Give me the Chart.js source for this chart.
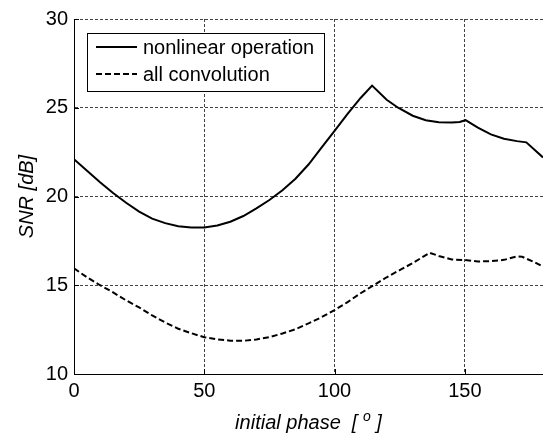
<!DOCTYPE html>
<html>
<head>
  <title>SNR vs initial phase</title>
  <style>
    body { margin: 0; background: #fff; }
    #wrap { width: 543px; height: 436px; }
  </style>
</head>
<body>
  <div id="wrap"><canvas id="chart" width="543" height="436"></canvas></div>

  <script src="https://cdn.jsdelivr.net/npm/chart.js"></script>
  <script>
    // nonlinear operation curve
    const phaseNonlinear = [0, 5, 10, 15, 20, 25, 30, 35, 40, 45, 50, 55, 60, 65, 70, 75, 80, 85, 90, 95,
      100, 105, 110, 114.4, 120, 124.4, 130, 135, 140, 145, 148, 150.3, 155, 160, 165, 170, 173.6, 180];
    const snrNonlinear = [22.1, 21.45, 20.8, 20.2, 19.65, 19.15, 18.75, 18.5, 18.33, 18.25, 18.26, 18.37, 18.58, 18.9, 19.33, 19.8, 20.35, 21.0, 21.8, 22.75,
      23.7, 24.65, 25.55, 26.25, 25.45, 25.0, 24.55, 24.3, 24.18, 24.17, 24.2, 24.3, 23.88, 23.5, 23.25, 23.12, 23.05, 22.2];

    // all convolution curve
    const phaseConv = [0, 5, 10, 15, 20, 25, 30, 35, 40, 45, 50, 55, 60, 65, 70, 75, 80, 85, 90, 95,
      100, 105, 110, 115, 120, 125, 130, 136.5, 140, 145, 150, 155, 160, 165, 170, 172, 176, 180];
    const snrConv = [15.95, 15.45, 15.0, 14.6, 14.15, 13.75, 13.3, 12.9, 12.55, 12.3, 12.07, 11.95, 11.88, 11.87, 11.95, 12.08, 12.28, 12.52, 12.85, 13.2,
      13.6, 14.05, 14.55, 15.0, 15.45, 15.85, 16.25, 16.83, 16.65, 16.45, 16.42, 16.34, 16.36, 16.43, 16.62, 16.6, 16.35, 16.05];

    const xTicks = [0, 50, 100, 150];
    const yTicks = [10, 15, 20, 25, 30];
    const seriesLabels = ['nonlinear operation', 'all convolution'];

    const FONT = "'Liberation Sans', Arial, Helvetica, sans-serif";

    const toPoints = (xs, ys) => xs.map((x, i) => ({ x: x, y: ys[i] }));

    // legend box, axis titles and inward tick marks
    const decorations = {
      id: 'decorations',
      afterDraw(chart) {
        const ctx = chart.ctx;
        const xs = chart.scales.x, ys = chart.scales.y;
        const area = chart.chartArea;

        ctx.save();
        ctx.strokeStyle = '#000';
        ctx.lineWidth = 1;
        ctx.beginPath();
        xTicks.forEach(v => {
          const px = Math.round(xs.getPixelForValue(v)) + 0.5;
          if (v === 0) return;
          ctx.moveTo(px, area.bottom);
          ctx.lineTo(px, area.bottom - 5);
        });
        yTicks.forEach(v => {
          const py = Math.round(ys.getPixelForValue(v)) + 0.5;
          if (v === 10) return;
          ctx.moveTo(area.left, py);
          ctx.lineTo(area.left + 5, py);
        });
        ctx.stroke();

        // legend
        ctx.fillStyle = '#fff';
        ctx.fillRect(87.5, 33.5, 237, 58);
        ctx.strokeRect(87.5, 33.5, 237, 58);
        const rows = [47, 74];
        chart.data.datasets.forEach((ds, i) => {
          ctx.lineWidth = 2;
          ctx.setLineDash(ds.borderDash || []);
          ctx.beginPath();
          ctx.moveTo(96, rows[i]);
          ctx.lineTo(137, rows[i]);
          ctx.stroke();
          ctx.setLineDash([]);
          ctx.fillStyle = '#000';
          ctx.font = '20px ' + FONT;
          ctx.textBaseline = 'middle';
          ctx.textAlign = 'left';
          ctx.fillText(ds.label, 143, rows[i] + 1);
        });

        // y axis title
        ctx.font = 'italic 20px ' + FONT;
        ctx.save();
        ctx.translate(33, (area.top + area.bottom) / 2);
        ctx.rotate(-Math.PI / 2);
        ctx.textAlign = 'center';
        ctx.textBaseline = 'alphabetic';
        ctx.fillText('SNR [dB]', 0, 0);
        ctx.restore();

        // x axis title with superscript degree mark
        const partA = 'initial phase  [ ';
        const partB = ' ]';
        ctx.font = 'italic 20px ' + FONT;
        const wA = ctx.measureText(partA).width;
        const wB = ctx.measureText(partB).width;
        ctx.font = 'italic 14px ' + FONT;
        const wSup = ctx.measureText('o').width;
        const total = wA + wSup + wB;
        let x0 = (area.left + area.right) / 2 - total / 2;
        const base = 429;
        ctx.textAlign = 'left';
        ctx.textBaseline = 'alphabetic';
        ctx.font = 'italic 20px ' + FONT;
        ctx.fillText(partA, x0, base);
        ctx.font = 'italic 14px ' + FONT;
        ctx.fillText('o', x0 + wA, base - 8);
        ctx.font = 'italic 20px ' + FONT;
        ctx.fillText(partB, x0 + wA + wSup, base);
        ctx.restore();
      }
    };

    const gridStyle = { color: '#444', lineWidth: 1, drawTicks: false };

    new Chart(document.getElementById('chart').getContext('2d'), {
      type: 'line',
      data: {
        datasets: [
          {
            label: seriesLabels[0],
            data: toPoints(phaseNonlinear, snrNonlinear),
            borderColor: '#000',
            borderWidth: 2,
            pointRadius: 0,
            tension: 0,
            fill: false
          },
          {
            label: seriesLabels[1],
            data: toPoints(phaseConv, snrConv),
            borderColor: '#000',
            borderWidth: 2,
            borderDash: [6, 3],
            pointRadius: 0,
            tension: 0,
            fill: false
          }
        ]
      },
      options: {
        responsive: false,
        animation: false,
        devicePixelRatio: 1,
        layout: { padding: { top: 19, right: 0, left: 0, bottom: 0 } },
        plugins: {
          legend: { display: false },
          tooltip: { enabled: false }
        },
        scales: {
          x: {
            type: 'linear',
            min: 0,
            max: 180,
            afterBuildTicks: s => { s.ticks = xTicks.map(v => ({ value: v })); },
            afterFit: s => { s.height = 62; },
            grid: gridStyle,
            border: { display: true, color: '#000', width: 1, dash: [3, 2] },
            ticks: { color: '#000', padding: 5, maxRotation: 0, font: { family: FONT, size: 20 } }
          },
          y: {
            type: 'linear',
            min: 10,
            max: 30,
            afterBuildTicks: s => { s.ticks = yTicks.map(v => ({ value: v })); },
            afterFit: s => { s.width = 74; },
            grid: gridStyle,
            border: { display: true, color: '#000', width: 1, dash: [3, 2] },
            ticks: { color: '#000', padding: 6, font: { family: FONT, size: 20 } }
          }
        }
      },
      plugins: [decorations]
    });
  </script>
</body>
</html>
